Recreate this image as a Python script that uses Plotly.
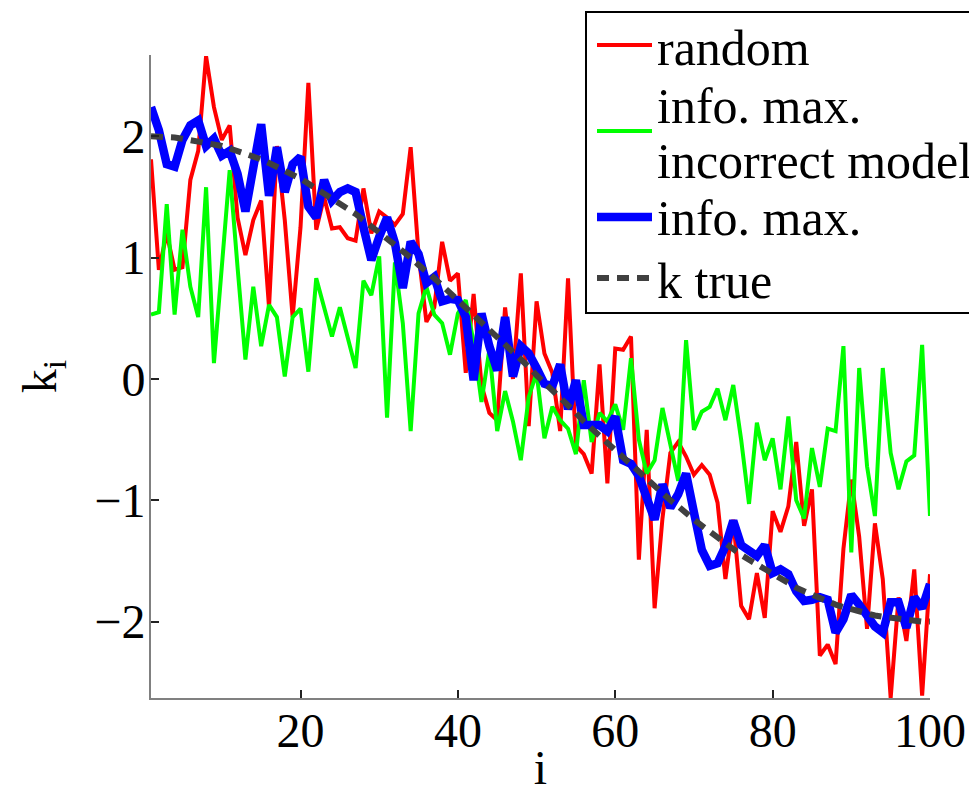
import plotly.graph_objects as go

# -------------------------
# DATA
# -------------------------
idx = list(range(1, 101))

k_random = [
    1.81, 0.90, 1.20, 0.90, 0.92, 1.64, 1.88, 2.66, 2.24, 1.97,
    2.09, 1.33, 1.02, 1.31, 1.47, 0.59, 1.92, 1.31, 0.51, 1.25,
    2.44, 1.23, 1.50, 1.24, 1.25, 1.16, 1.14, 1.57, 1.20, 1.38,
    1.33, 1.27, 1.36, 1.91, 1.03, 0.47, 0.59, 1.13, 0.81, 0.87,
    0.05, 0.70, -0.05, -0.28, -0.34, 0.59, 0.00, 0.87, -0.39, 0.64,
    0.21, 0.05, -0.43, 0.83, -0.55, -0.62, -0.78, 0.12, -0.86, 0.25,
    0.24, 0.35, -1.49, -0.42, -1.89, -1.15, -0.61, -0.52, -0.64, -0.79,
    -0.71, -0.79, -1.02, -1.65, -1.16, -1.87, -1.98, -1.60, -1.97, -1.09,
    -1.26, -1.05, -0.52, -1.21, -0.91, -2.28, -2.19, -2.35, -1.40, -0.83,
    -1.30, -2.06, -1.19, -1.65, -2.63, -1.80, -2.16, -1.57, -2.61, -1.61,
]

k_incorrect = [
    0.53, 0.55, 1.44, 0.53, 1.23, 0.76, 0.51, 1.58, 0.13, 0.92,
    1.72, 0.92, 0.16, 0.76, 0.27, 0.61, 0.51, 0.02, 0.51, 0.58,
    0.06, 0.83, 0.59, 0.35, 0.59, 0.35, 0.09, 0.81, 0.69, 1.01,
    -0.32, 0.96, 0.46, -0.43, 0.54, 0.76, 0.53, 0.46, 0.20, 0.54,
    0.65, 0.30, -0.19, 0.24, -0.43, -0.10, -0.35, -0.67, -0.15, 0.05,
    -0.49, -0.23, -0.34, -0.41, -0.62, -0.01, -0.52, -0.28, -0.35, -0.21,
    -0.42, 0.17, -0.50, -0.78, -0.67, -0.24, -0.53, -0.84, 0.32, -0.42,
    -0.27, -0.23, -0.08, -0.34, -0.05, -0.50, -1.03, -0.36, -0.67, -0.49,
    -0.91, -0.31, -1.00, -1.15, -0.57, -0.89, -0.41, -0.43, 0.27, -1.43,
    0.09, -0.72, -1.13, 0.09, -0.61, -0.91, -0.68, -0.63, 0.28, -1.13,
]

k_infomax = [
    2.24, 2.05, 1.77, 1.75, 1.97, 2.09, 2.13, 1.92, 1.98, 1.84,
    1.88, 1.69, 1.38, 1.75, 2.10, 1.51, 1.91, 1.54, 1.77, 1.83,
    1.42, 1.33, 1.64, 1.47, 1.54, 1.57, 1.54, 1.25, 0.98, 1.17,
    1.33, 1.12, 0.75, 1.13, 1.03, 0.79, 0.84, 0.64, 0.66, 0.65,
    0.51, -0.01, 0.54, 0.27, 0.07, 0.51, 0.02, 0.27, 0.21, 0.09,
    -0.04, -0.06, 0.12, -0.25, -0.01, -0.38, -0.38, -0.38, -0.43, -0.31,
    -0.67, -0.70, -0.80, -0.97, -1.16, -0.87, -1.06, -0.95, -0.78, -1.10,
    -1.41, -1.54, -1.52, -1.38, -1.17, -1.37, -1.42, -1.46, -1.37, -1.60,
    -1.57, -1.61, -1.75, -1.83, -1.82, -1.80, -1.82, -2.09, -1.98, -1.78,
    -1.86, -1.95, -2.04, -2.09, -1.84, -1.84, -2.05, -1.80, -1.89, -1.69,
]

k_true = [
    2.00, 2.00, 2.00, 1.99, 1.98, 1.97, 1.96, 1.95, 1.94, 1.92,
    1.90, 1.88, 1.86, 1.83, 1.81, 1.78, 1.75, 1.72, 1.68, 1.65,
    1.61, 1.57, 1.53, 1.49, 1.45, 1.40, 1.36, 1.31, 1.26, 1.21,
    1.16, 1.11, 1.05, 1.00, 0.94, 0.89, 0.83, 0.77, 0.71, 0.65,
    0.59, 0.53, 0.47, 0.41, 0.35, 0.28, 0.22, 0.16, 0.10, 0.03,
    -0.03, -0.10, -0.16, -0.22, -0.28, -0.35, -0.41, -0.47, -0.53, -0.59,
    -0.65, -0.71, -0.77, -0.83, -0.89, -0.94, -1.00, -1.05, -1.11, -1.16,
    -1.21, -1.26, -1.31, -1.36, -1.40, -1.45, -1.49, -1.53, -1.57, -1.61,
    -1.65, -1.68, -1.72, -1.75, -1.78, -1.81, -1.83, -1.86, -1.88, -1.90,
    -1.92, -1.94, -1.95, -1.96, -1.97, -1.98, -1.99, -2.00, -2.00, -2.00,
]

x_ticks = [20, 40, 60, 80, 100]
y_ticks = [-2, -1, 0, 1, 2]

legend_rows = ["random", "info. max.", "incorrect model", "info. max.", "k true"]

FONT = "Liberation Serif"
OFF = 8  # page body margin in the browser
W, H = 977 - OFF, 794 - OFF
L, R, T, B = 151 - OFF, 47, 55 - OFF, 96
PW, PH = W - L - R, H - T - B


# screen pixel -> paper coordinate (used for the hand-drawn legend)
def px_x(px):
    return (px - OFF - L) / PW


def px_y(py):
    return (H - B - (py - OFF)) / PH


# -------------------------
# TRACES
# -------------------------
fig = go.Figure()

fig.add_trace(go.Scatter(x=idx, y=k_random, mode="lines",
                         line=dict(color="#ff0000", width=4), showlegend=False))
fig.add_trace(go.Scatter(x=idx, y=k_incorrect, mode="lines",
                         line=dict(color="#00ff00", width=4), showlegend=False))
fig.add_trace(go.Scatter(x=idx, y=k_infomax, mode="lines",
                         line=dict(color="#0000ff", width=8.5), showlegend=False))
fig.add_trace(go.Scatter(x=idx, y=k_true, mode="lines",
                         line=dict(color="#404040", width=6, dash="12px,8px"),
                         showlegend=False))

# -------------------------
# LEGEND (drawn by hand, matlab style)
# -------------------------
shapes = [dict(type="rect", xref="paper", yref="paper",
               x0=px_x(586), x1=px_x(973), y0=px_y(313), y1=px_y(12),
               line=dict(color="black", width=2), fillcolor="white", layer="above")]

samples = [
    (45, "#ff0000", 4, "solid"),
    (131, "#00ff00", 4, "solid"),
    (217, "#0000ff", 8.5, "solid"),
    (278, "#404040", 6, "12px,8px"),
]
for py, col, w, dash in samples:
    shapes.append(dict(type="line", xref="paper", yref="paper",
                       x0=px_x(597), x1=px_x(652), y0=px_y(py), y1=px_y(py),
                       line=dict(color=col, width=w, dash=dash), layer="above"))

row_y = [48, 106, 161, 218, 281]
annotations = []
for txt, py in zip(legend_rows, row_y):
    annotations.append(dict(text=txt, xref="paper", yref="paper",
                            x=px_x(655), y=px_y(py), xanchor="left", yanchor="middle",
                            showarrow=False, font=dict(family=FONT, size=50, color="black")))

# -------------------------
# LAYOUT
# -------------------------
fig.update_layout(
    width=W, height=H,
    margin=dict(l=L, r=R, t=T, b=B),
    paper_bgcolor="white",
    plot_bgcolor="white",
    font=dict(family=FONT, size=48, color="black"),
    shapes=shapes,
    annotations=annotations,
    xaxis=dict(
        range=[1, 100], tickvals=x_ticks,
        ticks="inside", ticklen=8, tickwidth=1.5, tickcolor="#222",
        showline=True, linecolor="#808080", linewidth=2,
        showgrid=False, zeroline=False,
        tickfont=dict(family=FONT, size=48, color="black"),
        ticklabelstandoff=-11,
        title=dict(text="i", standoff=25, font=dict(family=FONT, size=48)),
        automargin=False,
    ),
    yaxis=dict(
        range=[-2.63, 2.67], tickvals=y_ticks,
        ticks="inside", ticklen=8, tickwidth=1.5, tickcolor="#222",
        showline=True, linecolor="#808080", linewidth=2,
        showgrid=False, zeroline=False,
        tickfont=dict(family=FONT, size=48, color="black"),
        ticklabelstandoff=-6,
        title=dict(text="k<sub>i</sub>", standoff=23, font=dict(family=FONT, size=48)),
        automargin=False,
    ),
)

fig.write_html("out.html")
